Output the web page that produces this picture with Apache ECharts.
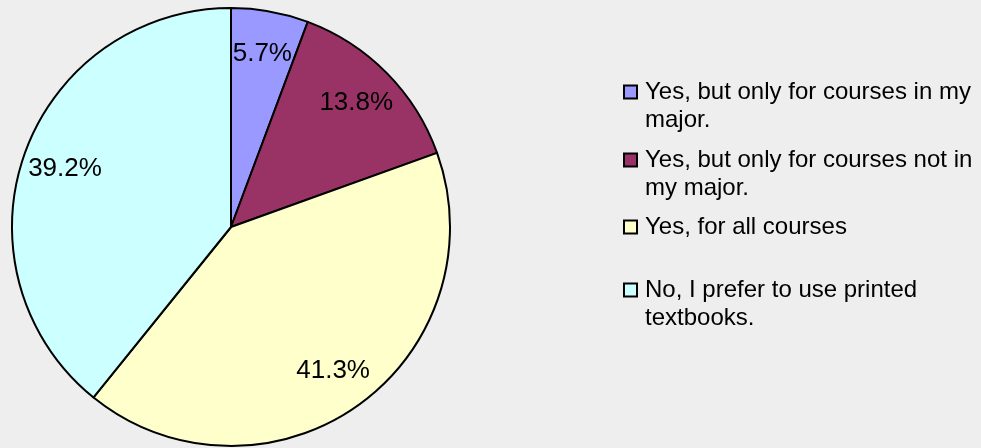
<!DOCTYPE html>
<html>
<head>
<meta charset="utf-8">
<script src="https://cdn.jsdelivr.net/npm/echarts@6/dist/echarts.min.js"></script>
<style>
html,body{margin:0;padding:0;background:#eeeeee;}
#c{width:981px;height:448px;}
</style>
</head>
<body>
<div id="c"></div>
<script>
const categories = [
  "Yes, but only for courses in my major.",
  "Yes, but only for courses not in my major.",
  "Yes, for all courses",
  "No, I prefer to use printed textbooks."
];
const legendLabels = [
  "Yes, but only for courses in my\nmajor.",
  "Yes, but only for courses not in\nmy major.",
  "Yes, for all courses",
  "No, I prefer to use printed\ntextbooks."
];
const values = [5.7, 13.8, 41.3, 39.2];
const colors = ["#9999FF", "#993366", "#FFFFCC", "#CCFFFF"];

const FONT = "'Liberation Sans', Arial, sans-serif";
const R = 219;
const CX = 231, CY = 227;

const rich = {
  sp: { width: 11, height: 11 },
  t: { fontSize: 24, lineHeight: 28, fontFamily: FONT, color: "#000", padding: [0, 0, 0, 9] }
};
colors.forEach((c, i) => {
  rich["b" + i] = { width: 11, height: 11, backgroundColor: c, borderColor: "#000", borderWidth: 2 };
});

function fmt(name) {
  const i = categories.indexOf(name);
  return legendLabels[i].split("\n").map((l, k) => (k === 0 ? "{b" + i + "|}" : "{sp|}") + "{t|" + l + "}").join("\n");
}

const legendTops = [78, 146, 213, 276];
const legends = categories.map((name, i) => ({
  data: [name],
  left: 619,
  top: legendTops[i],
  padding: 0,
  itemWidth: 0,
  itemHeight: 0,
  itemGap: 0,
  selectedMode: false,
  formatter: fmt,
  textStyle: { rich: rich, fontFamily: FONT, fontSize: 24, lineHeight: 28 }
}));

const pieData = categories.map((n, i) => ({ name: n, value: values[i], itemStyle: { color: colors[i] } }));

const chart = echarts.init(document.getElementById("c"), null, { renderer: "canvas" });
chart.setOption({
  backgroundColor: "#eeeeee",
  animation: false,
  legend: legends,
  series: [
    {
      type: "pie",
      center: [CX, CY],
      radius: [0, R],
      startAngle: 90,
      clockwise: true,
      silent: true,
      itemStyle: { borderColor: "#000", borderWidth: 2 },
      label: { show: false },
      labelLine: { show: false },
      emphasis: { disabled: true },
      data: pieData
    },
    {
      type: "pie",
      center: [CX, CY],
      radius: [0, 2 * 0.79 * R],
      startAngle: 90,
      clockwise: true,
      silent: true,
      z: 5,
      legendHoverLink: false,
      itemStyle: { color: "rgba(0,0,0,0)", borderWidth: 0 },
      label: {
        show: true,
        position: "inside",
        formatter: "{c}%",
        fontSize: 26,
        fontFamily: FONT,
        color: "#000"
      },
      labelLine: { show: false },
      emphasis: { disabled: true },
      data: categories.map((n, i) => ({ name: n, value: values[i], itemStyle: { color: "rgba(0,0,0,0)" } }))
    }
  ]
});
</script>
</body>
</html>
